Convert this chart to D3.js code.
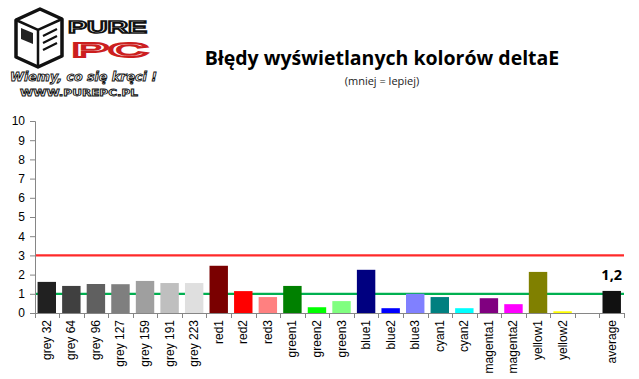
<!DOCTYPE html>
<html><head><meta charset="utf-8">
<script src="https://cdn.jsdelivr.net/npm/d3@7"></script>
<style>body{margin:0;background:#fff}svg{display:block}</style>
</head><body>
<svg id="c" width="639" height="379"></svg>
<script>
const categories = ["grey 32","grey 64","grey 96","grey 127","grey 159","grey 191","grey 223","red1","red2","red3","green1","green2","green3","blue1","blue2","blue3","cyan1","cyan2","magenta1","magenta2","yellow1","yellow2","","average"];
const values = [1.62,1.41,1.51,1.50,1.67,1.56,1.56,2.46,1.14,0.83,1.41,0.30,0.62,2.25,0.25,1.00,0.83,0.25,0.77,0.46,2.14,0.09,null,1.15];
const barColors = ["#212121","#404040","#606060","#7f7f7f","#9f9f9f","#bfbfbf","#dfdfdf","#7a0000","#ff0000","#ff8080","#008000","#00ff00","#80ff80","#000080","#0000ff","#8080ff","#008080","#00ffff","#800080","#ff00ff","#808000","#ffff00","#ffffff","#111111"];
const yTicks = [0,1,2,3,4,5,6,7,8,9,10];
const refLines = [{v:3,color:"#ff2a2a"},{v:1,color:"#00b050"}];
const averageLabel = "1,2";
const title = "Błędy wyświetlanych kolorów deltaE";
const subtitle = "(mniej = lepiej)";

const svg = d3.select("#c");
const x = d3.scaleBand().domain(d3.range(categories.length)).range([34.5,624]).paddingInner(0.25).paddingOuter(0.125);
const y = d3.scaleLinear().domain([0,10]).range([313,121]);

// Logo
const logo = svg.append("g");
logo.append("path").attr("d","M16,20 L40,9 L62,19 L62,56 L38,67 L16,57 Z").attr("fill","#fff").attr("stroke","#111").attr("stroke-width",3.5).attr("stroke-linejoin","round");
logo.append("path").attr("d","M16,20 L38,30 L62,19 M38,30 L38,67").attr("fill","none").attr("stroke","#111").attr("stroke-width",2.5);
logo.append("path").attr("d","M21,28 L33,33 L33,44 L21,39 Z").attr("fill","#222");
logo.append("path").attr("d","M43,36 L57,29 M43,43 L57,36 M43,50 L57,43").attr("stroke","#111").attr("stroke-width",2.2);
logo.append("text").attr("x",68).attr("y",33).attr("font-family","Liberation Sans, Arial").attr("font-size",17).attr("font-weight","bold")
  .attr("textLength",79).attr("lengthAdjust","spacingAndGlyphs")
  .attr("fill","#fff").attr("stroke","#111").attr("stroke-width",1.6).text("PURE");
logo.append("text").attr("x",72).attr("y",57).attr("font-family","Liberation Sans, Arial").attr("font-size",21).attr("font-weight","bold")
  .attr("textLength",76).attr("lengthAdjust","spacingAndGlyphs")
  .attr("fill","#fff").attr("stroke","#cc1f1f").attr("stroke-width",2).text("PC");
logo.append("text").attr("x",10).attr("y",81).attr("font-family","DejaVu Sans").attr("font-size",12.5).attr("font-weight","bold").attr("font-style","italic")
  .attr("textLength",147).attr("lengthAdjust","spacingAndGlyphs")
  .attr("fill","#fff").attr("stroke","#111").attr("stroke-width",0.9).text("Wiemy, co się kręci !");
logo.append("text").attr("x",20).attr("y",96).attr("font-family","DejaVu Sans").attr("font-size",9).attr("font-weight","bold")
  .attr("textLength",118).attr("lengthAdjust","spacingAndGlyphs")
  .attr("fill","#fff").attr("stroke","#111").attr("stroke-width",0.8).text("WWW.PUREPC.PL");

// Titles
svg.append("text").attr("x",382).attr("y",65).attr("text-anchor","middle").attr("font-family","Open Sans, Liberation Sans").attr("font-weight","bold").attr("font-size",19.5).attr("fill","#000").text(title);
svg.append("text").attr("x",382).attr("y",85).attr("text-anchor","middle").attr("font-family","Open Sans, Liberation Sans").attr("font-size",11).attr("fill","#222").text(subtitle);

// Reference lines (behind bars)
svg.selectAll("line.ref").data(refLines).join("line").attr("class","ref")
  .attr("x1",35).attr("x2",624).attr("y1",d=>y(d.v)).attr("y2",d=>y(d.v))
  .attr("stroke",d=>d.color).attr("stroke-width",2.2);

// Bars
const barData = values.map((v,i)=>({i,v})).filter(d=>d.v!==null);
svg.selectAll("rect.bar").data(barData).join("rect").attr("class","bar")
  .attr("x",d=>x(d.i)).attr("width",x.bandwidth())
  .attr("y",d=>y(d.v)).attr("height",d=>y(0)-y(d.v))
  .attr("fill",d=>barColors[d.i]);

// Y axis
const yAxis = svg.append("g").attr("transform","translate(35,0)")
  .call(d3.axisLeft(y).tickValues(yTicks).tickSize(5).tickPadding(5).tickFormat(d3.format("d")));
yAxis.select(".domain").attr("stroke","#868686");
yAxis.selectAll(".tick line").attr("stroke","#868686");
yAxis.selectAll("text").attr("font-family","Liberation Sans, Arial").attr("font-size",12).attr("fill","#000");

// X axis line and boundary ticks
svg.append("line").attr("x1",34.5).attr("x2",624).attr("y1",313.5).attr("y2",313.5).attr("stroke","#868686");
const step = x.step();
svg.selectAll("line.xt").data(d3.range(categories.length+1)).join("line").attr("class","xt")
  .attr("x1",d=>Math.round(34.5+d*step)+0.5).attr("x2",d=>Math.round(34.5+d*step)+0.5)
  .attr("y1",313).attr("y2",318).attr("stroke","#868686");

// X labels
svg.selectAll("text.xl").data(categories.map((c,i)=>({c,i}))).join("text").attr("class","xl")
  .attr("transform",d=>`translate(${x(d.i)+x.bandwidth()/2+4},320) rotate(-90)`)
  .attr("text-anchor","end").attr("font-family","Liberation Sans, Arial").attr("font-size",12).attr("fill","#000")
  .text(d=>d.c);

// Average label
const ai = categories.length-1;
svg.append("text").attr("x",x(ai)+x.bandwidth()/2).attr("y",y(values[ai])-11).attr("text-anchor","middle")
  .attr("font-family","Open Sans, Liberation Sans").attr("font-weight","bold").attr("font-size",14.5).attr("fill","#000").text(averageLabel);
</script>
</body></html>
